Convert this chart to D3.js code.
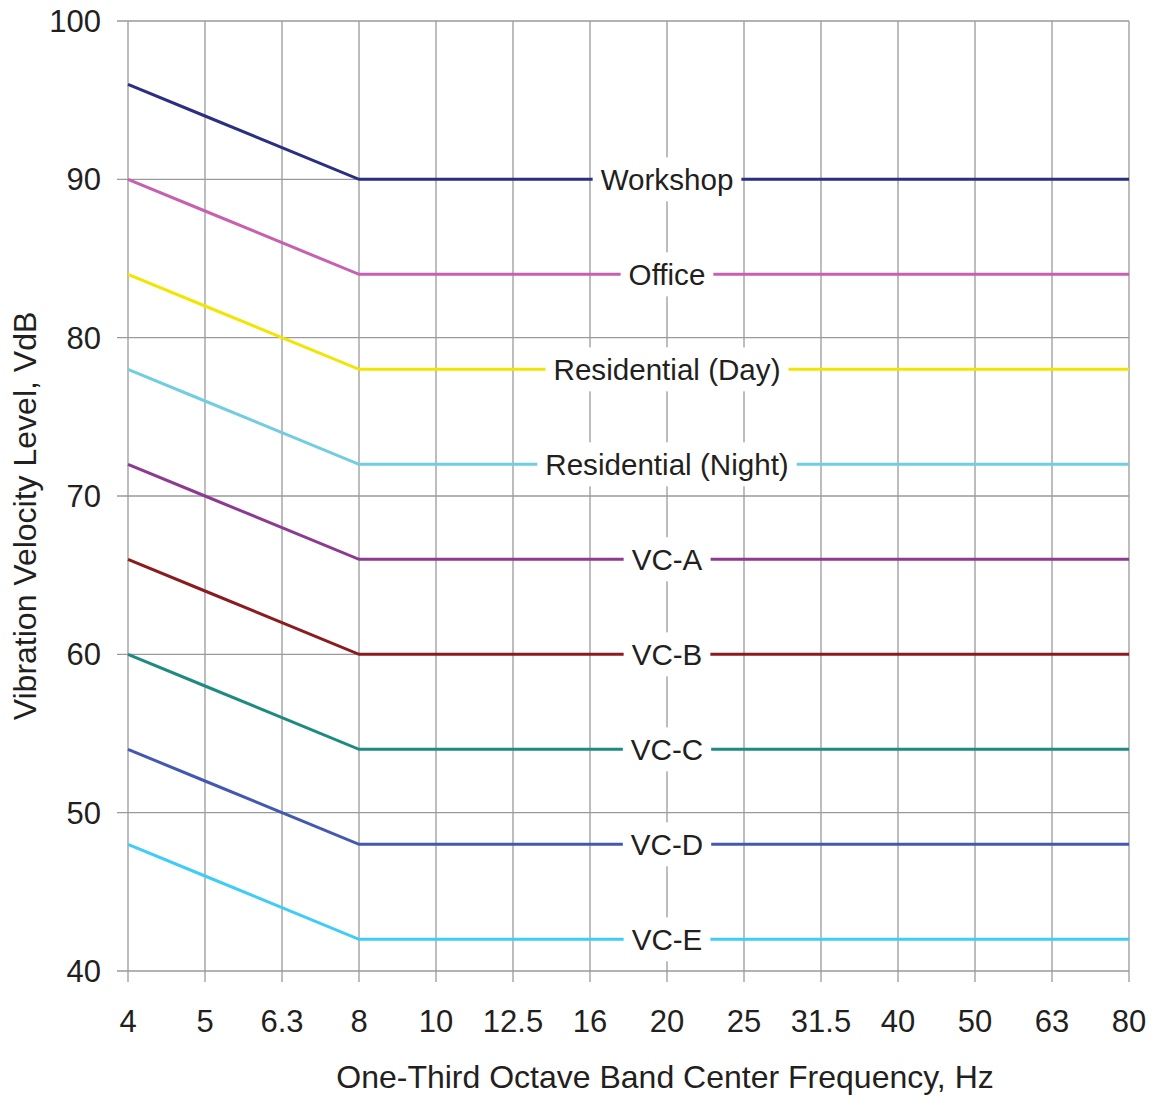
<!DOCTYPE html>
<html><head><meta charset="utf-8">
<script src="https://cdn.jsdelivr.net/npm/d3@7"></script>
<style>body{margin:0;background:#fff}text{font-family:"Liberation Sans",Arial,sans-serif;fill:#231f20}</style>
</head><body>
<script>
const categories = ["4","5","6.3","8","10","12.5","16","20","25","31.5","40","50","63","80"];
const yTicks = [40,50,60,70,80,90,100];
const seriesNames = ["Workshop","Office","Residential (Day)","Residential (Night)","VC-A","VC-B","VC-C","VC-D","VC-E"];
const seriesColors = ["#2b2f7f","#c660b1","#f2e500","#72cde0","#8c3a92","#8a1c20","#1e8a82","#4458b0","#3fcdf5"];
const workshop   = [96,94,92,90,90,90,90,90,90,90,90,90,90,90];
const office     = [90,88,86,84,84,84,84,84,84,84,84,84,84,84];
const resDay     = [84,82,80,78,78,78,78,78,78,78,78,78,78,78];
const resNight   = [78,76,74,72,72,72,72,72,72,72,72,72,72,72];
const vcA        = [72,70,68,66,66,66,66,66,66,66,66,66,66,66];
const vcB        = [66,64,62,60,60,60,60,60,60,60,60,60,60,60];
const vcC        = [60,58,56,54,54,54,54,54,54,54,54,54,54,54];
const vcD        = [54,52,50,48,48,48,48,48,48,48,48,48,48,48];
const vcE        = [48,46,44,42,42,42,42,42,42,42,42,42,42,42];
const seriesValues = [workshop,office,resDay,resNight,vcA,vcB,vcC,vcD,vcE];
const labelCategory = "20";
const xTitle = "One-Third Octave Band Center Frequency, Hz";
const yTitle = "Vibration Velocity Level, VdB";

const W=1154,H=1097;
const svg=d3.select("body").append("svg").attr("width",W).attr("height",H);
const x=d3.scalePoint().domain(categories).range([128,1129]);
const y=d3.scaleLinear().domain([40,100]).range([971,21]);
const grid="#9a9a9a";

// grid
svg.append("g").selectAll("line").data(categories).join("line")
  .attr("x1",d=>x(d)).attr("x2",d=>x(d)).attr("y1",y(100)).attr("y2",y(40)+11)
  .attr("stroke",grid).attr("stroke-width",1.3);
svg.append("g").selectAll("line").data(yTicks).join("line")
  .attr("x1",x("4")-11).attr("x2",x("80")).attr("y1",d=>y(d)).attr("y2",d=>y(d))
  .attr("stroke",grid).attr("stroke-width",1.3);

// tick labels
svg.append("g").selectAll("text").data(yTicks).join("text")
  .attr("x",101).attr("y",d=>y(d)).attr("dy","0.36em").attr("text-anchor","end")
  .attr("font-size",31).text(d=>d);
svg.append("g").selectAll("text").data(categories).join("text")
  .attr("x",d=>x(d)).attr("y",1032).attr("text-anchor","middle")
  .attr("font-size",31).text(d=>d);

// lines
const line=d3.line().x((d,i)=>x(categories[i])).y(d=>y(d));
seriesValues.forEach((vals,k)=>{
  svg.append("path").datum(vals).attr("d",line).attr("fill","none")
    .attr("stroke",seriesColors[k]).attr("stroke-width",3);
});

// labels
seriesValues.forEach((vals,k)=>{
  const cx=x(labelCategory), cy=y(vals[categories.indexOf(labelCategory)]);
  const g=svg.append("g");
  const r=g.append("rect").attr("fill","#fff");
  const t=g.append("text").attr("x",cx).attr("y",cy).attr("dy","0.36em")
    .attr("text-anchor","middle").attr("font-size",29.6).text(seriesNames[k]);
  const bb=t.node().getBBox();
  r.attr("x",bb.x-8).attr("width",bb.width+16).attr("y",cy-22).attr("height",44);
});

// titles
svg.append("text").attr("x",665).attr("y",1088).attr("text-anchor","middle")
  .attr("font-size",32).text(xTitle);
svg.append("text").attr("transform","translate(36,516) rotate(-90)").attr("text-anchor","middle")
  .attr("font-size",32).text(yTitle);
</script>
</body></html>
